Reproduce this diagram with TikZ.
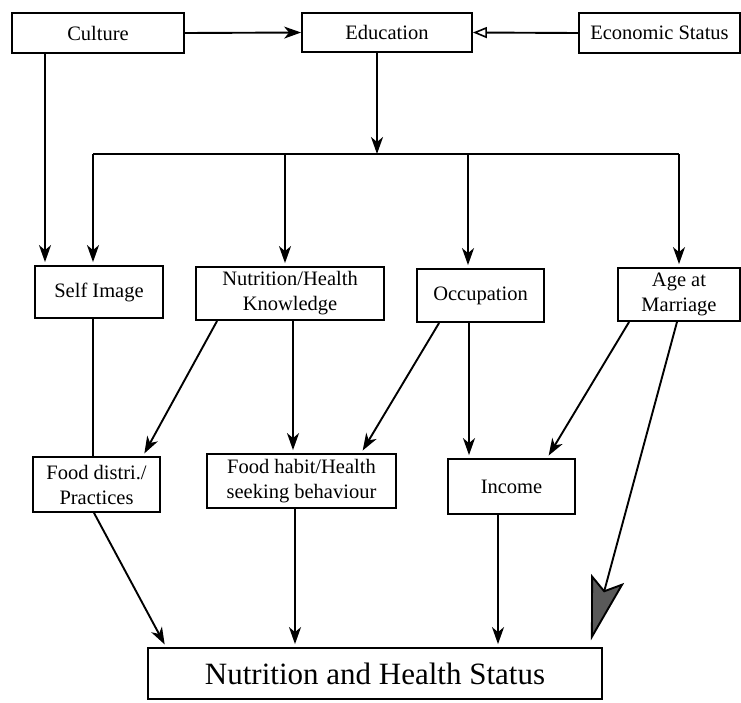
\documentclass[tikz,border=0pt]{standalone}
\usepackage{fontspec}
\setmainfont{Liberation Serif}
\usetikzlibrary{arrows.meta,positioning}

\begin{document}
\begin{tikzpicture}[x=1pt, y=-1pt, line width=1.9pt,
  box/.style={draw, line width=1.8pt, inner sep=0pt, align=center, font=\fontsize{20.5}{25}\selectfont},
  arr/.style={-{Stealth[length=17pt, width=12pt, inset=5pt]}, shorten >=3pt},
  openarr/.style={-{Triangle[open, length=14pt, width=11pt, line width=1.6pt]}},
  bigarr/.style={-{Stealth[length=64pt, width=34pt, inset=12pt, fill=black!65]}, shorten >=7pt}]
\useasboundingbox (0,0) rectangle (741,702);

% top row
\node[box, minimum width=172, minimum height=40] (culture) at (98,33) {Culture};
\node[box, minimum width=170, minimum height=39] (edu) at (387,32.5) {Education};
\node[box, minimum width=161, minimum height=40] (econ) at (659.5,33) {Economic Status};

% middle row
\node[box, minimum width=128, minimum height=52] (self) at (99,292) {Self Image};
\node[box, minimum width=188, minimum height=53] (know) at (290,293.5) {Nutrition/Health\\Knowledge};
\node[box, minimum width=127, minimum height=53] (occ) at (480.5,295.5) {Occupation};
\node[box, minimum width=122, minimum height=53] (age) at (679,294.5) {Age at\\Marriage};

% lower row
\node[box, minimum width=127, minimum height=55] (food) at (96.5,484.5) {Food distri./\\Practices};
\node[box, minimum width=189, minimum height=54] (habit) at (301.5,481) {Food habit/Health\\seeking behaviour};
\node[box, minimum width=127, minimum height=55] (income) at (511.5,486.5) {Income};

\node[box, minimum width=454, minimum height=51, font=\fontsize{31}{36}\selectfont] (nhs) at (375,673.5) {Nutrition and Health Status};

\coordinate (busL) at (93,154);
\coordinate (busR) at (679,154);

% top connections
\draw[arr, shorten >=0pt] (culture.east) -- (edu.west);
\draw[openarr] (econ.west) -- (edu.east);
\draw[arr] ([xshift=-53]culture.south) -- ([xshift=-54]self.north);
\draw[arr, shorten >=0pt] ([xshift=-10]edu.south) -- ([xshift=-10]edu.south |- busL);
\draw (busL) -- (busR);
\draw[arr] (busL) -- (busL |- self.north);
\draw[arr] ([xshift=-5]know.north |- busL) -- ([xshift=-5]know.north);
\draw[arr] ([xshift=-12.5]occ.north |- busL) -- ([xshift=-12.5]occ.north);
\draw[arr] (busR) -- (busR |- age.north);

% middle connections
\draw ([xshift=-6]self.south) -- ([xshift=-6]self.south |- food.north);
\draw[arr] ([xshift=22]know.south west) -- ([xshift=-18]food.north east);
\draw[arr] ([xshift=3]know.south) -- ([xshift=3]know.south |- habit.north);
\draw[arr] ([xshift=23]occ.south west) -- ([xshift=155]habit.north west);
\draw[arr] ([xshift=-11.5]occ.south) -- ([xshift=-11.5]occ.south |- income.north);
\draw[arr] ([xshift=12]age.south west) -- ([xshift=100]income.north west);
\draw[bigarr] ([xshift=-2]age.south) -- ([xshift=442]nhs.north west);

% bottom connections
\draw[arr] ([xshift=-2.5]food.south) -- ([xshift=19]nhs.north west);
\draw[arr] ([xshift=-6.5]habit.south) -- ([xshift=-6.5]habit.south |- nhs.north);
\draw[arr] ([xshift=-13.5]income.south) -- ([xshift=-13.5]income.south |- nhs.north);
\end{tikzpicture}
\end{document}
